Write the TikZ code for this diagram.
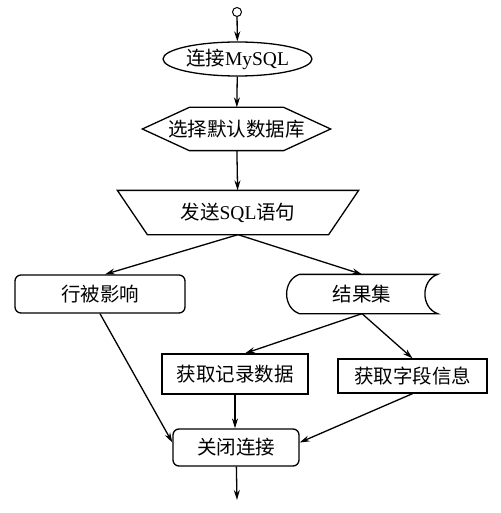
\documentclass[tikz,border=0pt]{standalone}
\usepackage{fontspec}
\setmainfont{Liberation Serif}
\newfontfamily\cjk{Noto Sans CJK SC}
\usetikzlibrary{shapes.geometric, arrows.meta, calc}

\tikzset{
  flowbox/.style = {inner sep = 0pt, font = \fontsize{19.5}{22}\selectfont},
  flowline/.style = {-{Stealth[length = 10pt, width = 6pt]}},
}

\begin{document}
\begin{tikzpicture}[x = 1pt, y = -1pt, line width = 1.3pt]
      \useasboundingbox (0, 0) rectangle (500, 513);
      % start and end
      \node [circle, draw, line width = 1pt, minimum size = 9, inner sep = 0pt] (start) at (237, 12) {};
      \coordinate (stop) at (237, 500);
      % nodes
      \node [flowbox, ellipse, draw, minimum width = 149, minimum height = 34] (connect) at (237.5, 59) {{\cjk 连接}MySQL};
      \node [flowbox, minimum width = 187, minimum height = 42] (selectdb) at (236.5, 129) {\cjk 选择默认数据库};
      \node [flowbox, minimum width = 240, minimum height = 43] (sendsql) at (238, 212.5) {{\cjk 发送}SQL{\cjk 语句}};
      \node [flowbox, draw, rounded corners = 6, minimum width = 170, minimum height = 38] (rows) at (100, 294) {\cjk 行被影响};
      \node [flowbox, minimum width = 150, minimum height = 38] (result) at (362, 294) {\cjk 结果集};
      \node [flowbox, draw, minimum width = 146, minimum height = 40] (records) at (235, 374) {\cjk 获取记录数据};
      \node [flowbox, draw, minimum width = 149, minimum height = 34] (fields) at (412.5, 376) {\cjk 获取字段信息};
      \node [flowbox, draw, rounded corners = 6, minimum width = 126, minimum height = 37] (close) at (236, 447.5) {\cjk 关闭连接};
      % outlines
      \draw (selectdb.west) -- ($(selectdb.north west) + (47, 0)$) -- ($(selectdb.north east) + (-47, 0)$)
        -- (selectdb.east) -- ($(selectdb.south east) + (-47, 0)$) -- ($(selectdb.south west) + (47, 0)$) -- cycle;
      \draw (sendsql.north west) -- (sendsql.north east) -- ($(sendsql.south east) + (-30, 0)$)
        -- ($(sendsql.south west) + (30, 0)$) -- cycle;
      \draw ($(result.north west) + (13, 0)$) -- (result.north east)
        .. controls ($(result.north east) + (-17, 6)$) and ($(result.south east) + (-17, -6)$) .. (result.south east)
        -- ($(result.south west) + (13, 0)$)
        .. controls ($(result.south west) + (-4, -6)$) and ($(result.north west) + (-4, 6)$) .. ($(result.north west) + (13, 0)$);
      % connectors
      \draw [flowline] (start) -- (connect);
      \draw [flowline] (connect) -- (selectdb);
      \draw [flowline] (selectdb) -- (sendsql);
      \draw [flowline] (sendsql.south) -- ($(rows.north) + (5, 0)$);
      \draw [flowline] (sendsql.south) -- (result.north);
      \draw [flowline] (result.south) -- ($(records.north) + (10, 0)$);
      \draw [flowline] (result.south) -- (fields.north);
      \draw [flowline] (rows.south) -- ($(close.west) + (0, -5)$);
      \draw [flowline] (records.south) -- (records.south |- close.north);
      \draw [flowline] (fields.south) -- ($(close.east) + (0, -5)$);
      \draw [flowline] (close) -- (stop);
    \end{tikzpicture}
\end{document}
